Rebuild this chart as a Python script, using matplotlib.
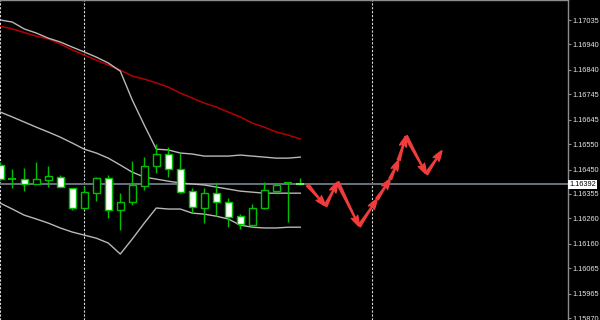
import numpy as np
import matplotlib
matplotlib.use("Agg")
import matplotlib.pyplot as plt

# ---------------- data ----------------
opens  = [1.16468, 1.16415, 1.16413, 1.16394, 1.16409, 1.16421, 1.16378, 1.16300,
          1.16359, 1.16417, 1.16292, 1.16323, 1.16386, 1.16464, 1.16511, 1.16452,
          1.16366, 1.16300, 1.16359, 1.16323, 1.16269, 1.16234, 1.16300, 1.16366,
          1.16398, 1.16392]
highs  = [1.16480, 1.16452, 1.16456, 1.16480, 1.16464, 1.16429, 1.16378, 1.16386,
          1.16421, 1.16429, 1.16359, 1.16484, 1.16499, 1.16550, 1.16538, 1.16515,
          1.16378, 1.16378, 1.16398, 1.16339, 1.16276, 1.16316, 1.16402, 1.16398,
          1.16400, 1.16417]
lows   = [1.16409, 1.16378, 1.16366, 1.16394, 1.16382, 1.16382, 1.16292, 1.16296,
          1.16327, 1.16261, 1.16214, 1.16312, 1.16370, 1.16437, 1.16421, 1.16359,
          1.16280, 1.16241, 1.16269, 1.16226, 1.16218, 1.16226, 1.16296, 1.16359,
          1.16245, 1.16390]
closes = [1.16413, 1.16413, 1.16394, 1.16413, 1.16425, 1.16382, 1.16300, 1.16362,
          1.16417, 1.16292, 1.16323, 1.16390, 1.16464, 1.16511, 1.16452, 1.16362,
          1.16304, 1.16359, 1.16323, 1.16265, 1.16237, 1.16300, 1.16370, 1.16390,
          1.16398, 1.16394]

bb_upper = [1.17035, 1.17027, 1.17000, 1.16984, 1.16964, 1.16949, 1.16929, 1.16910,
            1.16890, 1.16867, 1.16835, 1.16722, 1.16624, 1.16530, 1.16527, 1.16515,
            1.16511, 1.16503, 1.16503, 1.16503, 1.16507, 1.16503, 1.16499, 1.16495,
            1.16495, 1.16499]
bb_mid   = [1.16675, 1.16656, 1.16636, 1.16616, 1.16597, 1.16577, 1.16554, 1.16530,
            1.16515, 1.16495, 1.16468, 1.16440, 1.16421, 1.16413, 1.16405, 1.16398,
            1.16394, 1.16390, 1.16382, 1.16374, 1.16366, 1.16362, 1.16358, 1.16358,
            1.16358, 1.16358]
bb_lower = [1.16319, 1.16296, 1.16272, 1.16257, 1.16241, 1.16222, 1.16206, 1.16194,
            1.16182, 1.16163, 1.16120, 1.16179, 1.16241, 1.16300, 1.16296, 1.16296,
            1.16280, 1.16276, 1.16268, 1.16257, 1.16233, 1.16225, 1.16222, 1.16222,
            1.16225, 1.16225]
ma_red   = [1.17011, 1.17000, 1.16986, 1.16972, 1.16961, 1.16941, 1.16918, 1.16898,
            1.16878, 1.16859, 1.16839, 1.16816, 1.16804, 1.16789, 1.16773, 1.16749,
            1.16730, 1.16710, 1.16695, 1.16675, 1.16656, 1.16632, 1.16616, 1.16597,
            1.16585, 1.16570]

# forecast zigzag (bar index, price)
fc_x = [25.6, 27.1, 28.1, 29.9, 31.4, 32.5, 33.2, 33.8, 35.5, 36.8]
fc_y = [1.16390, 1.16308, 1.16401, 1.16229, 1.16335, 1.16414, 1.16487, 1.16581,
        1.16433, 1.16524]

separators = [0, 7, 31]
price_ticks = [1.17035, 1.16940, 1.16840, 1.16745, 1.16645, 1.16550, 1.16450,
               1.16355, 1.16260, 1.16160, 1.16065, 1.15965, 1.15870]
last_price = 1.16392

# ---------------- plot ----------------
fig = plt.figure(figsize=(6, 3.2), dpi=100, facecolor='black')
ax = fig.add_axes([0, 0, 568/600, 1])
ax.set_facecolor('black')

x = np.arange(len(opens))
green = '#00c000'

for xs in separators:
    ax.axvline(xs, color='#d8d8d8', lw=0.8, ls=(0, (2, 1.5)), zorder=1)

ax.axhline(last_price, color='#66737f', lw=1.4, zorder=2)

ax.plot(x, ma_red, color='#b40000', lw=1.1, zorder=3)
for band in (bb_upper, bb_mid, bb_lower):
    ax.plot(x, band, color='#b8b8b8', lw=1.0, zorder=3)

ax.vlines(x, lows, highs, color=green, lw=1.0, zorder=4)
for i in range(len(opens)):
    o, c = opens[i], closes[i]
    if abs(c - o) < 0.00004:
        col = '#5cff5c' if i == len(opens) - 1 else green
        ax.hlines((o + c) / 2, i - 0.33, i + 0.33, color=col, lw=1.4, zorder=5)
    else:
        fill = 'white' if c < o else 'black'
        ax.bar(i, abs(c - o), bottom=min(o, c), width=0.6, color=fill,
               edgecolor=green, linewidth=1.0, zorder=5)

for i in range(len(fc_x) - 1):
    ax.annotate('', xy=(fc_x[i+1], fc_y[i+1]), xytext=(fc_x[i], fc_y[i]),
                arrowprops=dict(arrowstyle='fancy,head_length=0.75,head_width=0.5,tail_width=0.22',
                                color='#f03c3c', shrinkA=0, shrinkB=0, mutation_scale=10),
                zorder=6)

ax.set_xlim(-0.025, 47.31)
ax.set_ylim(1.158622, 1.171132)

for s in ('left', 'bottom'):
    ax.spines[s].set_visible(False)
for s in ('top', 'right'):
    ax.spines[s].set_color('#8c8c8c')
    ax.spines[s].set_linewidth(1.0)

ax.set_xticks([])
ax.yaxis.tick_right()
ax.set_yticks(price_ticks)
ax.set_yticklabels(['%.5f' % p for p in price_ticks])
ax.tick_params(axis='y', colors='#8c8c8c', length=2, width=0.8, pad=1.5,
               labelcolor='#e6e6e6', labelsize=5.3)
for lab in ax.get_yticklabels():
    lab.set_family('Liberation Sans')

ax.text(1.002, last_price, '%.5f' % last_price, transform=ax.get_yaxis_transform(),
        va='center', ha='left', color='black', fontsize=5.3, family='Liberation Sans',
        bbox=dict(fc='white', ec='none', pad=0.9), clip_on=False, zorder=10)

plt.savefig('out.png', dpi=100, facecolor='black')
